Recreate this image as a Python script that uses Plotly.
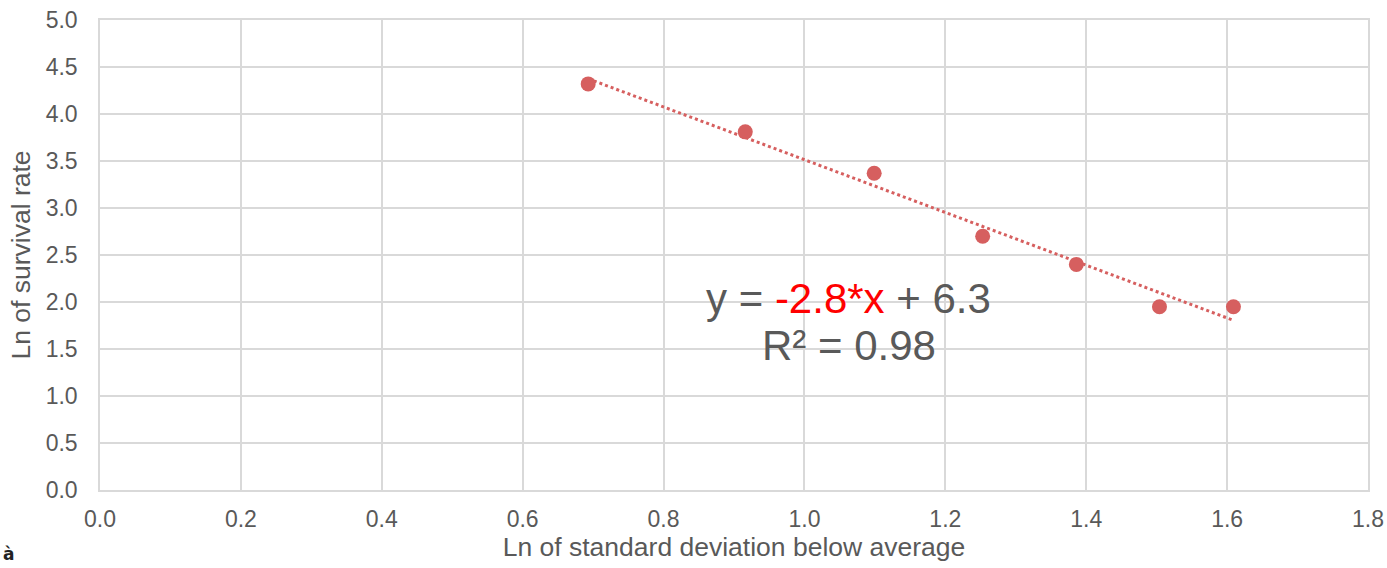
import numpy as np
import plotly.graph_objects as go

# Data
ln_sd = [0.693, 0.916, 1.099, 1.253, 1.386, 1.504, 1.609]
ln_survival = [4.32, 3.81, 3.37, 2.70, 2.40, 1.95, 1.95]

x_ticks = [0.0, 0.2, 0.4, 0.6, 0.8, 1.0, 1.2, 1.4, 1.6, 1.8]
y_ticks = [0.0, 0.5, 1.0, 1.5, 2.0, 2.5, 3.0, 3.5, 4.0, 4.5, 5.0]

slope, intercept = np.polyfit(ln_sd, ln_survival, 1)
trend_x = [min(ln_sd), max(ln_sd)]
trend_y = [slope * v + intercept for v in trend_x]

point_color = "#d65f5f"
grid_color = "#d9d9d9"
text_color = "#595959"
font_family = "Liberation Sans, Arial, sans-serif"

fig = go.Figure()
fig.add_trace(go.Scatter(
    x=trend_x, y=trend_y, mode="lines",
    line=dict(color=point_color, width=3, dash="dot"),
    hoverinfo="skip", showlegend=False,
))
fig.add_trace(go.Scatter(
    x=ln_sd, y=ln_survival, mode="markers",
    marker=dict(color=point_color, size=15),
    showlegend=False,
))

fig.add_annotation(
    x=1.063, y=2.04, xref="x", yref="y",
    text="y = <span style='color:#ff0000'>-2.8*x</span> + 6.3",
    showarrow=False, font=dict(size=42, color=text_color, family=font_family),
    xanchor="center", yanchor="middle",
)
fig.add_annotation(
    x=1.063, y=1.54, xref="x", yref="y",
    text="R² = 0.98",
    showarrow=False, font=dict(size=42, color=text_color, family=font_family),
    xanchor="center", yanchor="middle",
)
fig.add_annotation(
    x=-99 / 1268, y=-64 / 470, xref="paper", yref="paper",
    text="<b>à</b>", showarrow=False,
    font=dict(size=17, color="#222222", family="DejaVu Sans, sans-serif"),
    xanchor="left", yanchor="middle",
)

fig.update_layout(
    width=1387, height=568,
    margin=dict(l=100, r=19, t=20, b=78),
    paper_bgcolor="white", plot_bgcolor="white",
    font=dict(family=font_family, color=text_color),
    xaxis=dict(
        range=[0, 1.8], tickvals=x_ticks, tickformat=".1f", automargin=False,
        ticklabeloverflow="allow",
        showgrid=True, gridcolor=grid_color, gridwidth=1.5,
        zeroline=False, showline=True, linecolor=grid_color, linewidth=1.5, mirror=True,
        ticks="outside", ticklen=8, tickcolor="rgba(0,0,0,0)",
        tickfont=dict(size=23, color=text_color),
        title=dict(text="Ln of standard deviation below average",
                   font=dict(size=26.5, color=text_color), standoff=2),
    ),
    yaxis=dict(
        range=[0, 5], tickvals=y_ticks, tickformat=".1f", automargin=False,
        ticklabeloverflow="allow",
        showgrid=True, gridcolor=grid_color, gridwidth=1.5,
        zeroline=False, showline=True, linecolor=grid_color, linewidth=1.5, mirror=True,
        ticks="outside", ticklen=16, tickcolor="rgba(0,0,0,0)",
        tickfont=dict(size=23, color=text_color),
        title=dict(text="Ln of survival rate",
                   font=dict(size=26.5, color=text_color), standoff=7),
    ),
)

fig.write_html(
    "out.html",
    config={"displayModeBar": False},
    post_script="document.body.style.margin='0';document.body.style.overflow='hidden';",
)
